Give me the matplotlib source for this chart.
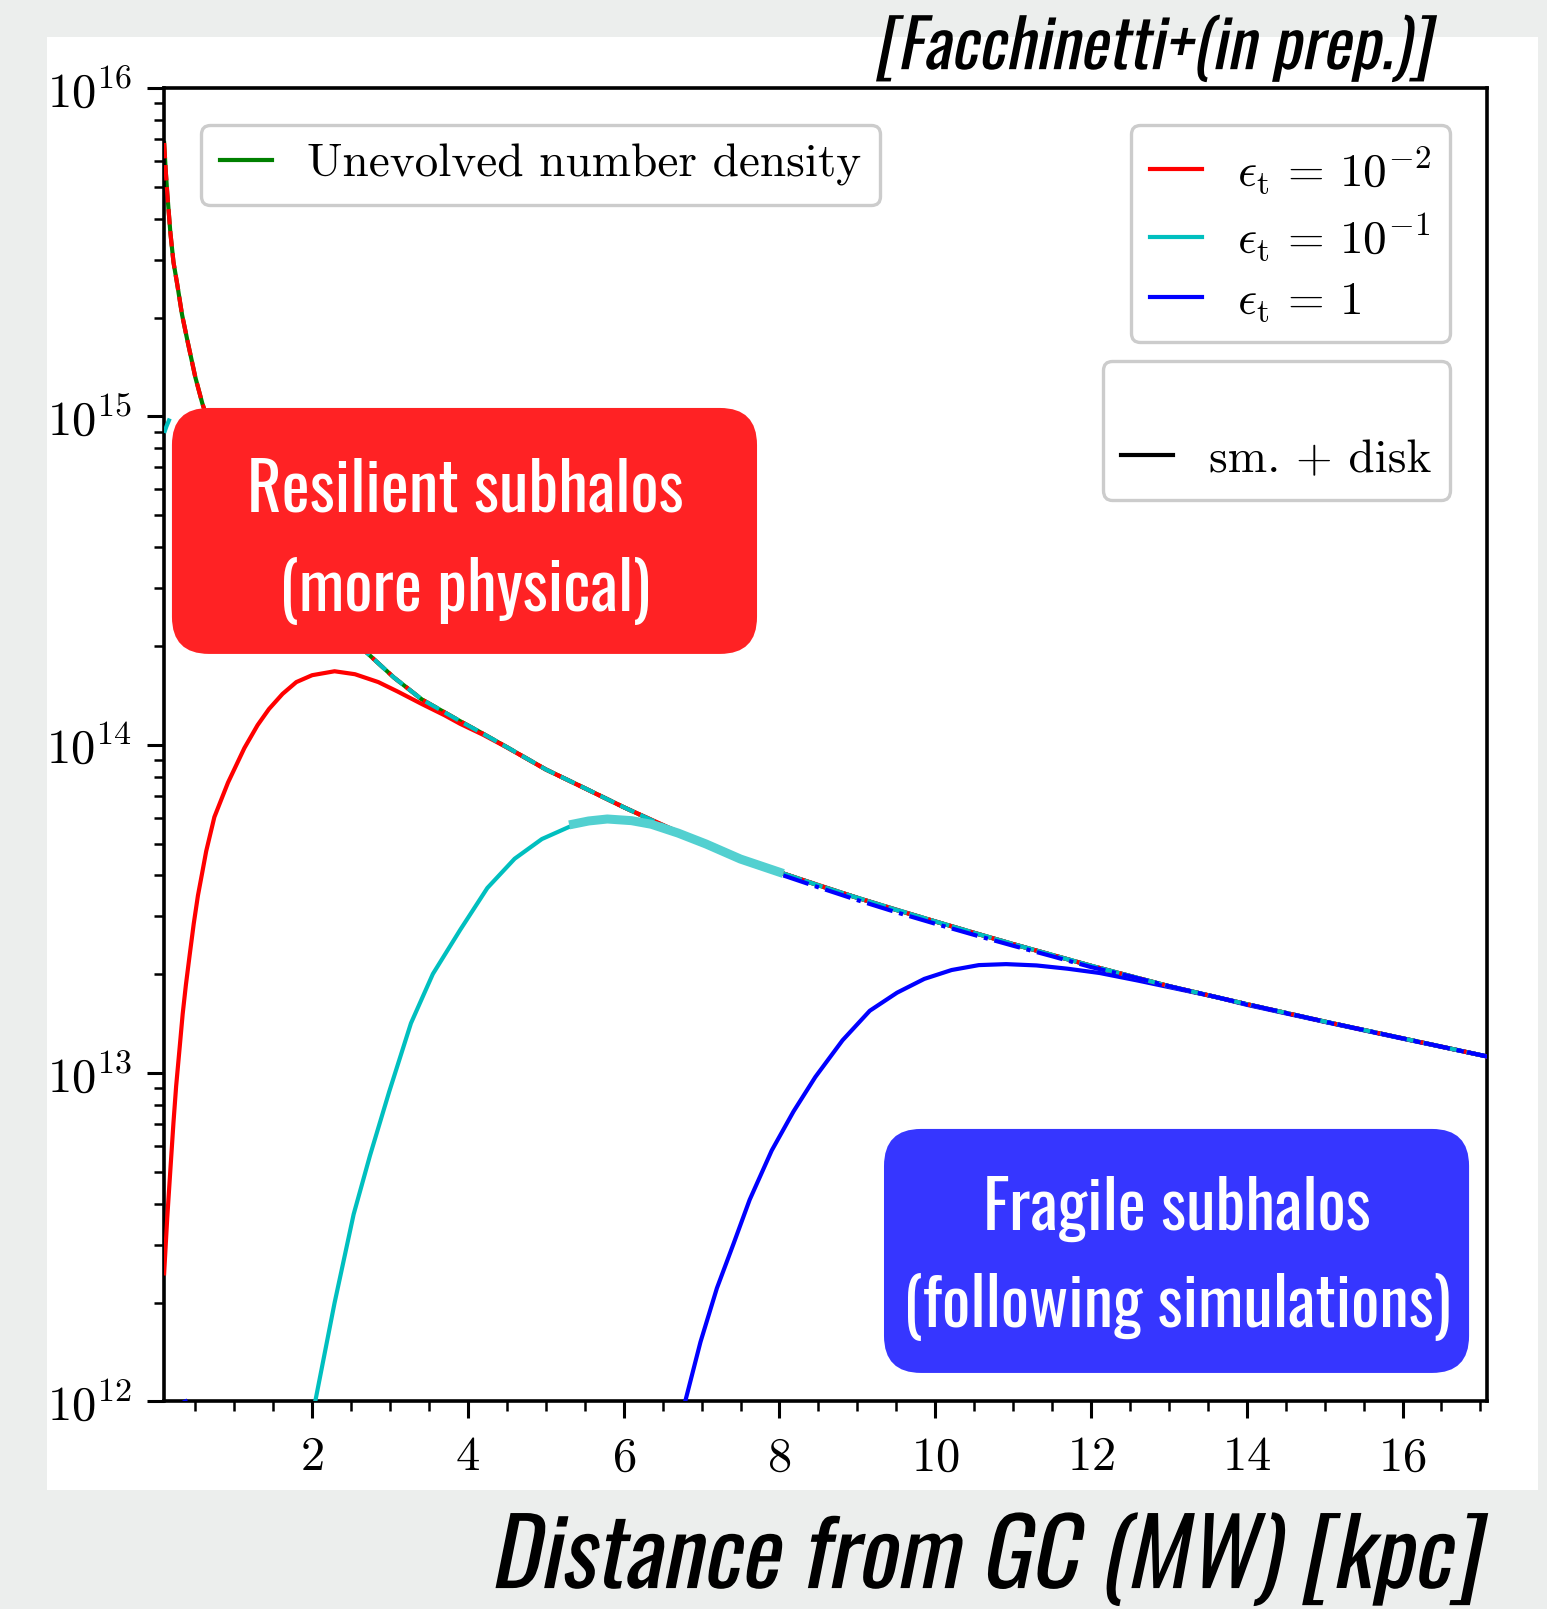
import numpy as np
import matplotlib
matplotlib.use('Agg')
import matplotlib.pyplot as plt
from matplotlib import font_manager, patheffects
from matplotlib.patches import FancyBboxPatch, Rectangle
from matplotlib.lines import Line2D
from matplotlib.transforms import Affine2D
from matplotlib.ticker import MultipleLocator, LogLocator, NullFormatter

plt.rcParams['font.family'] = 'serif'
plt.rcParams['font.serif'] = ['cmr10']
plt.rcParams['mathtext.fontset'] = 'cm'
plt.rcParams['axes.formatter.use_mathtext'] = True
plt.rcParams['axes.unicode_minus'] = False

# narrow sans font for the slide annotations
available = {f.name for f in font_manager.fontManager.ttflist}
narrow = next((n for n in ['Oswald', 'Liberation Sans Narrow', 'Roboto Condensed',
                           'DejaVu Sans Condensed', 'Open Sans Condensed']
               if n in available), 'DejaVu Sans')


class Slant(patheffects.AbstractPathEffect):
    """Oblique text: shear the glyph outlines before drawing."""

    def __init__(self, shear=0.2):
        super().__init__()
        self._shear = shear

    def draw_path(self, renderer, gc, tpath, affine, rgbFace=None):
        skew = Affine2D().skew(np.arctan(self._shear), 0)
        renderer.draw_path(gc, tpath, skew + affine, rgbFace)


# distance from GC [kpc] and log10 of the subhalo number density
r_unev = [0.1, 0.12, 0.14, 0.18, 0.22, 0.27, 0.33, 0.4, 0.5, 0.59, 0.7, 0.8, 1.0, 1.25,
          1.5, 2.0, 2.7, 3.05, 3.41, 3.9, 4.2, 4.5, 5.0, 5.5, 6.0, 6.5, 7.0, 7.5, 8.0,
          8.5, 9.0, 9.5, 10.0, 10.5, 11.0, 12.0, 13.0, 14.0, 15.0, 16.0, 17.1]
logn_unev = [15.833, 15.75, 15.68, 15.56, 15.47, 15.40, 15.31, 15.23, 15.12, 15.04, 14.96,
             14.89, 14.78, 14.68, 14.60, 14.45, 14.281, 14.205, 14.138, 14.072, 14.033,
             13.993, 13.925, 13.868, 13.81, 13.755, 13.703, 13.655, 13.612, 13.572,
             13.534, 13.497, 13.462, 13.427, 13.393, 13.327, 13.265, 13.21, 13.157,
             13.106, 13.05]

# eps_t = 1e-2, smooth + disk
r_e2 = [0.1, 0.14, 0.184, 0.22, 0.254, 0.3, 0.338, 0.38, 0.429, 0.48, 0.534, 0.59, 0.64,
        0.745, 0.92, 1.13, 1.3, 1.446, 1.62, 1.797, 2.0, 2.288, 2.55, 2.85, 3.1, 3.41,
        3.7, 3.9, 4.2, 4.5, 5.0, 6.0, 7.0, 8.0, 9.0, 10.0, 11.0, 12.0, 13.0, 14.0, 15.0,
        16.0, 17.1]
logn_e2 = [12.39, 12.56, 12.72, 12.85, 12.96, 13.08, 13.18, 13.27, 13.362, 13.455, 13.541,
           13.612, 13.676, 13.78, 13.885, 13.99, 14.06, 14.109, 14.155, 14.191, 14.212,
           14.224, 14.215, 14.191, 14.162, 14.124, 14.09, 14.064, 14.03, 13.992, 13.925,
           13.81, 13.703, 13.612, 13.534, 13.462, 13.393, 13.327, 13.265, 13.21, 13.157,
           13.106, 13.05]

# eps_t = 1e-1, smooth + disk
r_e1 = [2.04, 2.288, 2.533, 2.743, 2.989, 3.269, 3.55, 3.9, 4.25, 4.6, 4.95, 5.3, 5.55,
        5.79, 6.1, 6.355, 6.7, 7.056, 7.5, 8.05, 8.5, 9.0, 10.0, 11.0, 12.0, 13.0, 14.0,
        15.0, 16.0, 17.1]
logn_e1 = [12.0, 12.30, 12.57, 12.749, 12.943, 13.152, 13.302, 13.436, 13.564, 13.653,
           13.713, 13.75, 13.765, 13.773, 13.769, 13.758, 13.731, 13.698, 13.652, 13.608,
           13.572, 13.534, 13.462, 13.393, 13.327, 13.265, 13.21, 13.157, 13.106, 13.05]

# eps_t = 1, smooth + disk
r_e0 = [6.79, 6.986, 7.197, 7.41, 7.617, 7.9, 8.18, 8.46, 8.81, 9.16, 9.51, 9.86, 10.21,
        10.56, 10.91, 11.3, 11.7, 12.11, 12.6, 13.18, 13.6, 14.0, 15.0, 16.0, 17.1]
logn_e0 = [12.0, 12.181, 12.345, 12.48, 12.614, 12.764, 12.883, 12.988, 13.10, 13.19,
           13.245, 13.287, 13.314, 13.329, 13.332, 13.328, 13.318, 13.305, 13.282, 13.253,
           13.232, 13.208, 13.156, 13.105, 13.05]

# smooth-only curves
r_sm_e1 = [0.1, 0.13, 0.2, np.nan, 2.0, 2.7, 3.05, 3.41, 3.9, 4.2, 4.5, 5.0, 5.5, 6.0,
           6.5, 7.0, 7.5, 8.0, 8.5, 9.0, 9.5, 10.0, 10.5, 11.0, 12.0, 13.0, 14.0, 15.0,
           16.0, 17.1]
logn_sm_e1 = [14.95, 14.97, 15.01, np.nan, 14.45, 14.281, 14.205, 14.138, 14.072, 14.033,
              13.993, 13.925, 13.868, 13.81, 13.755, 13.703, 13.655, 13.612, 13.572,
              13.534, 13.497, 13.462, 13.427, 13.393, 13.327, 13.265, 13.21, 13.157,
              13.106, 13.05]
r_sm_e0 = [0.33, 0.40, np.nan, 8.05, 8.5, 9.0, 9.5, 10.0, 10.5, 11.0, 11.5, 12.0, 12.5,
           13.0, 14.0, 15.0, 16.0, 17.1]
logn_sm_e0 = [11.995, 12.003, np.nan, 13.602, 13.566, 13.527, 13.490, 13.455, 13.421,
              13.388, 13.356, 13.323, 13.295, 13.265, 13.21, 13.157, 13.106, 13.05]

# highlighted stretch of the eps_t = 1e-1 curve
r_hl = [5.3, 5.55, 5.79, 6.1, 6.355, 6.7, 7.056, 7.5, 8.05]
logn_hl = [13.756, 13.768, 13.774, 13.769, 13.758, 13.731, 13.698, 13.652, 13.608]

fig = plt.figure(figsize=(15.47, 16.09), dpi=100, facecolor='#eceeed')
fig.patches.append(Rectangle((0.0304, 0.0740), 0.9638, 0.903, transform=fig.transFigure,
                             facecolor='white', edgecolor='none', zorder=-5))
ax = fig.add_axes([0.1061, 0.1290, 0.8549, 0.8162])

lw = 3.0
ax.plot(r_unev, 10**np.array(logn_unev), color='g', lw=lw, zorder=2)
ax.plot(r_e2, 10**np.array(logn_e2), color='r', lw=lw, zorder=3)
ax.plot(r_e1, 10**np.array(logn_e1), color='c', lw=lw, zorder=3)
ax.plot(r_e0, 10**np.array(logn_e0), color='b', lw=lw, zorder=3)
ax.plot(r_unev, 10**np.array(logn_unev), color='r', lw=lw, ls='--', zorder=4)
ax.plot(r_sm_e1, 10**np.array(logn_sm_e1), color='c', lw=lw, ls='--', zorder=5)
ax.plot(r_sm_e0, 10**np.array(logn_sm_e0), color='b', lw=lw, ls='-.', zorder=6)
ax.plot(r_hl, 10**np.array(logn_hl), color='#52d0d0', lw=6.5, solid_capstyle='butt', zorder=7)

ax.set_yscale('log')
ax.set_xlim(0.1, 17.08)
ax.set_ylim(1e12, 1e16)
ax.xaxis.set_major_locator(MultipleLocator(2))
ax.xaxis.set_minor_locator(MultipleLocator(0.5))
ax.yaxis.set_major_locator(LogLocator(base=10, numticks=10))
ax.yaxis.set_minor_locator(LogLocator(base=10, subs=np.arange(2, 10), numticks=20))
ax.yaxis.set_minor_formatter(NullFormatter())
ax.tick_params(which='major', length=12, width=2.2, labelsize=35, top=False, right=False)
ax.tick_params(axis='x', which='major', pad=13)
ax.tick_params(axis='y', which='major', pad=11)
ax.tick_params(which='minor', length=7, width=1.8, top=False, right=False)
for s in ax.spines.values():
    s.set_linewidth(2.6)

# legends
leg_kw = dict(fontsize=34, handlelength=1.1, handletextpad=0.75, borderpad=0.4,
              labelspacing=0.34, borderaxespad=0, framealpha=1, fancybox=True)

h_unev = [Line2D([], [], color='g', lw=lw)]
leg1 = ax.legend(h_unev, ['Unevolved number density'], loc='upper left',
                 bbox_to_anchor=(0.0278, 0.972), **leg_kw)
ax.add_artist(leg1)

h_eps = [Line2D([], [], color=c, lw=lw) for c in ['r', 'c', 'b']]
lab_eps = [r'$\epsilon_{\rm t}\,=\,10^{-2}$', r'$\epsilon_{\rm t}\,=\,10^{-1}$',
           r'$\epsilon_{\rm t}\,=\,1$']
leg2 = ax.legend(h_eps, lab_eps, loc='upper right', bbox_to_anchor=(0.9723, 0.972), **leg_kw)
ax.add_artist(leg2)

h_tid = [Line2D([], [], color='none', lw=lw), Line2D([], [], color='k', lw=lw)]
leg3 = ax.legend(h_tid, [r'$\epsilon_{\rm t}$', 'sm. + disk'], loc='upper right',
                 bbox_to_anchor=(0.9723, 0.7923), **leg_kw)
leg3.get_texts()[0].set_color('white')
for lg in (leg1, leg2, leg3):
    lg.get_frame().set_edgecolor('#cccccc')
    lg.get_frame().set_linewidth(2.4)
    lg.set_zorder(10)

# annotation boxes
box_kw = dict(boxstyle='round,pad=0,rounding_size=0.028', mutation_aspect=1.007,
              transform=ax.transAxes, clip_on=False, edgecolor='none', zorder=12)
ax.add_patch(FancyBboxPatch((0.0059, 0.5692), 0.4424, 0.1873, facecolor='#ff2224', **box_kw))
ax.add_patch(FancyBboxPatch((0.5443, 0.0217), 0.4424, 0.1858, facecolor='#3636ff', **box_kw))

txt_kw = dict(family=narrow, color='white', fontsize=48, ha='center', va='center',
              transform=ax.transAxes, zorder=13)
ax.text(0.2274, 0.6933, 'Resilient subhalos', **txt_kw)
ax.text(0.2274, 0.6172, '(more physical)', **txt_kw)
ax.text(0.7657, 0.1462, 'Fragile subhalos', **txt_kw)
ax.text(0.7657, 0.0720, '(following simulations)', **txt_kw)

slant = [Slant(0.2)]
fig.text(0.9252, 0.957, '[Facchinetti+(in prep.)]', family=narrow, fontsize=48,
         ha='right', va='baseline', path_effects=slant)
fig.text(0.956, 0.013, 'Distance from GC (MW) [kpc]', family=narrow, fontsize=66.7,
         ha='right', va='baseline', path_effects=slant)

fig.savefig('out.png', dpi=100, facecolor=fig.get_facecolor())
